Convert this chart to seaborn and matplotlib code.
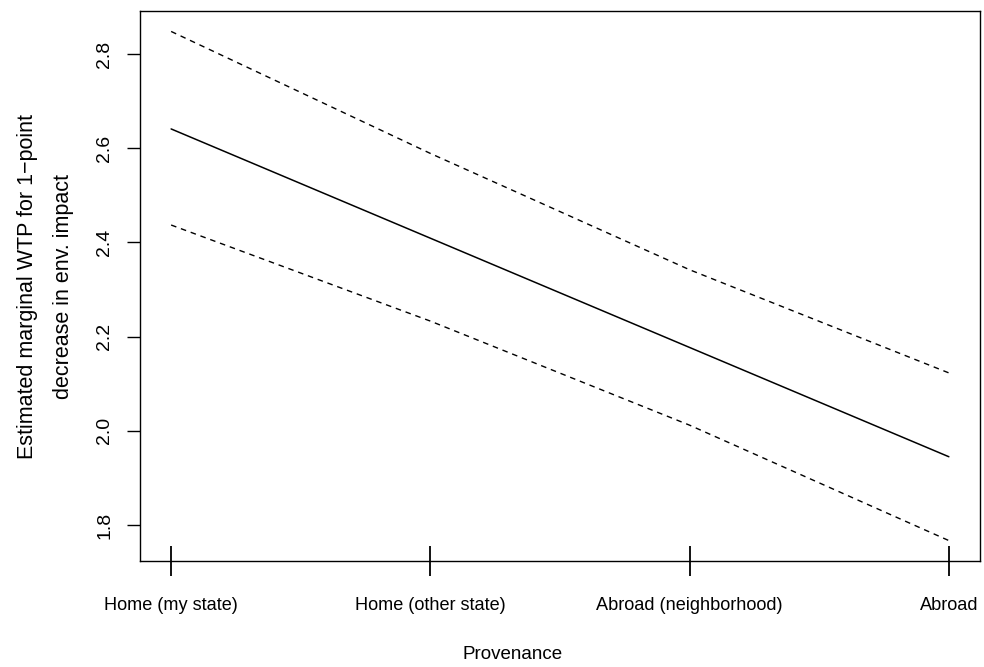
import matplotlib
matplotlib.use("Agg")
import matplotlib.pyplot as plt
import seaborn as sns
import pandas as pd

provenance = ["Home (my state)", "Home (other state)", "Abroad (neighborhood)", "Abroad"]
wtp_est = [2.641, 2.409, 2.177, 1.945]
wtp_upper = [2.848, 2.589, 2.342, 2.123]
wtp_lower = [2.437, 2.233, 2.012, 1.767]
y_ticks = [1.8, 2.0, 2.2, 2.4, 2.6, 2.8]

df = pd.DataFrame({
    "Provenance": provenance,
    "est": wtp_est,
    "upper": wtp_upper,
    "lower": wtp_lower,
})

sns.set_style("white")
plt.rcParams["font.family"] = ["Liberation Sans", "DejaVu Sans"]
plt.rcParams["text.color"] = "black"
plt.rcParams["axes.labelcolor"] = "black"
plt.rcParams["xtick.color"] = "black"
plt.rcParams["ytick.color"] = "black"

fig = plt.figure(figsize=(9.84, 6.67), dpi=100)
ax = fig.add_axes([0.1423, 0.1589, 0.8536, 0.8246])

sns.lineplot(data=df, x="Provenance", y="est", ax=ax, color="black",
             linewidth=1.1, sort=False)
for col in ["upper", "lower"]:
    sns.lineplot(data=df, x="Provenance", y=col, ax=ax, color="black",
                 linewidth=1.0, sort=False, linestyle=(0, (4, 3.5)))

# R style axis limits (4% padding)
ax.set_xlim(-0.12, 3.12)
ax.set_ylim(1.7236, 2.8914)

for s in ax.spines.values():
    s.set_visible(True)
    s.set_color("black")
    s.set_linewidth(1.0)

ax.set_yticks(y_ticks)
ax.set_yticklabels([f"{v:.1f}" for v in y_ticks], rotation=90, va="center")
ax.tick_params(axis="y", direction="out", length=9.4, width=1.0,
               labelsize=14, pad=10, left=True)
ax.tick_params(axis="x", direction="inout", length=21.6, width=1.3,
               labelsize=13.1, pad=15, bottom=True)

ax.set_xlabel("Provenance", fontsize=13.5)
ax.xaxis.set_label_coords(0.443, -0.154)
ax.set_ylabel("Estimated marginal WTP for 1\u2212point\ndecrease in env. impact",
              fontsize=15.5, labelpad=16, linespacing=1.9)

fig.savefig("out.png", dpi=100)
